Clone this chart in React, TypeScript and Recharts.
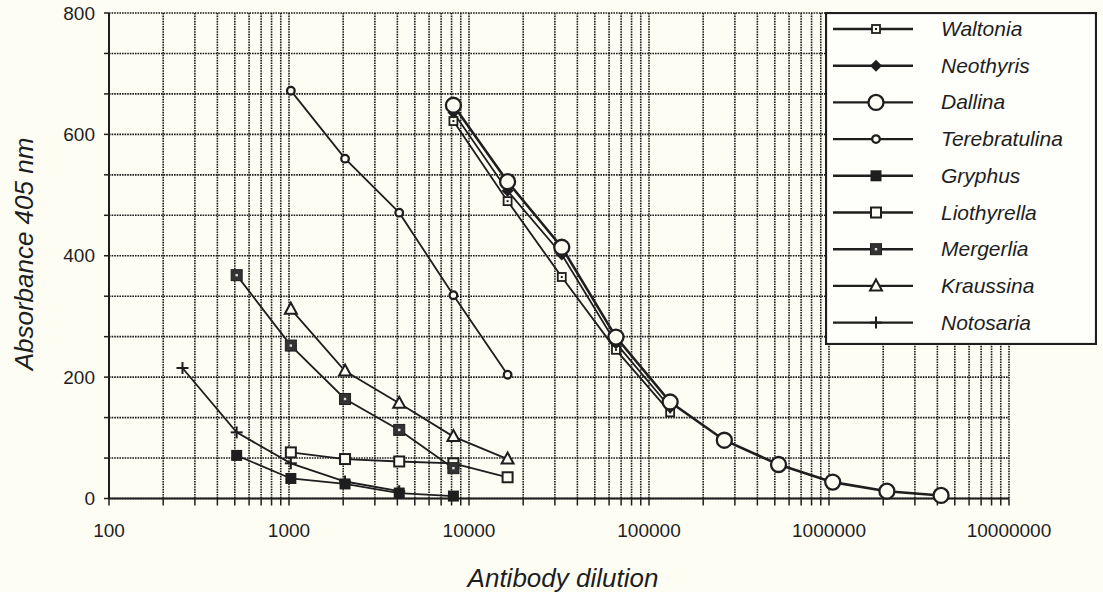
import React from 'react';
import { LineChart, Line, XAxis, YAxis, CartesianGrid } from 'recharts';

// Antibody dilution series (two-fold steps)
const dilutions = [256, 512, 1024, 2048, 4096, 8192, 16384, 32768, 65536, 131072, 262144, 524288, 1048576, 2097152, 4194304];

// Absorbance values per genus (first dilution given as start)
const waltonia = [622, 490, 365, 245, 142]; // from 8192
const neothyris = [636, 507, 402, 256, 150]; // from 8192
const dallina = [648, 522, 414, 266, 159, 96, 56, 27, 12, 5]; // from 8192
const terebratulina = [672, 560, 471, 335, 204]; // from 1024
const gryphus = [71, 33, 24, 9, 4]; // from 512
const liothyrella = [76, 65, 61, 58, 35]; // from 1024
const mergerlia = [368, 252, 164, 113, 50]; // from 512
const kraussina = [312, 210, 157, 102, 65]; // from 1024
const notosaria = [215, 109, 58, 28, 12]; // from 256

const seriesNames = ['Waltonia', 'Neothyris', 'Dallina', 'Terebratulina', 'Gryphus', 'Liothyrella', 'Mergerlia', 'Kraussina', 'Notosaria'];
const seriesValues = [waltonia, neothyris, dallina, terebratulina, gryphus, liothyrella, mergerlia, kraussina, notosaria];
const seriesStart = [8192, 8192, 8192, 1024, 512, 1024, 512, 1024, 256];
const seriesMarker = ['dotSquare', 'diamond', 'circle', 'smallRing', 'filledSquare', 'openSquare', 'dotFilledSquare', 'triangle', 'plus'];

const xTicks: number[] = [];
for (let e = 2; e < 7; e++) {
  for (let m = 1; m < 10; m++) xTicks.push(m * Math.pow(10, e));
}
xTicks.push(10000000);
const yTicks: number[] = Array.from({ length: 13 }, (_, i) => (i * 800) / 12);

const BG = '#fdfdf4';
const INK = '#1e1e1e';
const FONT = "'Liberation Sans', Arial, Helvetica, sans-serif";

const buildData = (idx: number) => {
  const s = dilutions.indexOf(seriesStart[idx]);
  return seriesValues[idx].map((y, i) => ({ x: dilutions[s + i], y }));
};

function Marker({ type, cx, cy }: { type: string; cx: number; cy: number }) {
  switch (type) {
    case 'dotSquare':
      return (
        <g>
          <rect x={cx - 4} y={cy - 4} width={8} height={8} fill={BG} stroke={INK} strokeWidth={1.8} />
          <rect x={cx - 1} y={cy - 1} width={2} height={2} fill={INK} />
        </g>
      );
    case 'diamond':
      return <polygon points={`${cx},${cy - 6} ${cx + 6},${cy} ${cx},${cy + 6} ${cx - 6},${cy}`} fill={INK} />;
    case 'circle':
      return <circle cx={cx} cy={cy} r={7.5} fill={BG} stroke={INK} strokeWidth={2.3} />;
    case 'smallRing':
      return <circle cx={cx} cy={cy} r={3.8} fill={BG} stroke={INK} strokeWidth={2.3} />;
    case 'filledSquare':
      return <rect x={cx - 5.5} y={cy - 5.5} width={11} height={11} fill={INK} />;
    case 'openSquare':
      return <rect x={cx - 5} y={cy - 5} width={10} height={10} fill={BG} stroke={INK} strokeWidth={2} />;
    case 'dotFilledSquare':
      return (
        <g>
          <rect x={cx - 5.5} y={cy - 5.5} width={11} height={11} fill="#333" stroke={INK} strokeWidth={1} />
          <rect x={cx - 1.2} y={cy - 1.2} width={2.4} height={2.4} fill="#ddd" />
        </g>
      );
    case 'triangle':
      return (
        <polygon
          points={`${cx},${cy - 6.5} ${cx + 6},${cy + 4.5} ${cx - 6},${cy + 4.5}`}
          fill={BG}
          stroke={INK}
          strokeWidth={2}
        />
      );
    case 'plus':
      return (
        <g stroke={INK} strokeWidth={2}>
          <line x1={cx - 6} y1={cy} x2={cx + 6} y2={cy} />
          <line x1={cx} y1={cy - 6} x2={cx} y2={cy + 6} />
        </g>
      );
    default:
      return null;
  }
}

const LegendBox = () => {
  const w = 272;
  const h = 333;
  return (
    <svg width={w} height={h} style={{ display: 'block' }}>
      <rect x={1} y={1} width={w - 2} height={h - 2} fill="#fefefa" stroke={INK} strokeWidth={2.2} />
      {seriesNames.map((name, i) => {
        const y = 17 + i * 36.7;
        return (
          <g key={name}>
            <line x1={8} y1={y} x2={88} y2={y} stroke={INK} strokeWidth={2.4} />
            <Marker type={seriesMarker[i]} cx={51} cy={y} />
            <text x={116} y={y + 7} fontFamily={FONT} fontStyle="italic" fontSize={21} fill={INK}>
              {name}
            </text>
          </g>
        );
      })}
    </svg>
  );
};

const fmtX = (v: number) => {
  const l = Math.log10(v);
  return Math.abs(l - Math.round(l)) < 1e-9 ? String(Math.round(v)) : '';
};
const fmtY = (v: number) => {
  const r = Math.round(v);
  return Math.abs(v - r) < 1e-6 && r % 200 === 0 ? String(r) : '';
};

export default function App() {
  const yAxisW = 80;
  const xAxisH = 40;
  return (
    <div style={{ position: 'absolute', left: 0, top: 0, width: 1103, height: 592, background: BG }}>
      <LineChart
        width={1103}
        height={592}
        margin={{ top: 13, right: 94, bottom: 93.5 - xAxisH, left: 109 - yAxisW }}
      >
        <CartesianGrid
          stroke="#1a1a1a"
          strokeWidth={1.6}
          strokeDasharray="1.6 1"
          horizontalValues={yTicks}
          verticalValues={xTicks}
        />
        <XAxis
          type="number"
          dataKey="x"
          scale="log"
          domain={[100, 10000000]}
          ticks={xTicks}
          interval={0}
          tickFormatter={fmtX}
          height={xAxisH}
          axisLine={{ stroke: INK, strokeWidth: 2 }}
          tickLine={{ stroke: INK, strokeWidth: 1.5 }}
          tickSize={7}
          tickMargin={18}
          tick={{ fill: INK, fontSize: 19, fontFamily: FONT }}
          allowDataOverflow
        />
        <YAxis
          type="number"
          domain={[0, 800]}
          ticks={yTicks}
          interval={0}
          tickFormatter={fmtY}
          width={yAxisW}
          axisLine={{ stroke: INK, strokeWidth: 2 }}
          tickLine={{ stroke: INK, strokeWidth: 1.5 }}
          tickSize={5}
          tickMargin={9}
          tick={{ fill: INK, fontSize: 19, fontFamily: FONT }}
        />
        {seriesNames.map((name, i) => (
          <Line
            key={name}
            name={name}
            data={buildData(i)}
            dataKey="y"
            stroke={INK}
            strokeWidth={name === 'Dallina' ? 2.6 : 1.8}
            isAnimationActive={false}
            dot={(p: any) => <Marker key={`${name}-${p.index}`} type={seriesMarker[i]} cx={p.cx} cy={p.cy} />}
            activeDot={false}
          />
        ))}
      </LineChart>
      <div style={{ position: 'absolute', left: 825, top: 12, width: 272, height: 333 }}>
        <LegendBox />
      </div>
      <div
        style={{
          position: 'absolute',
          left: 0,
          top: 0,
          width: 1103,
          height: 592,
          pointerEvents: 'none',
        }}
      >
        <svg width={1103} height={592}>
          <text
            x={563}
            y={587}
            textAnchor="middle"
            fontFamily={FONT}
            fontStyle="italic"
            fontSize={26}
            fill={INK}
          >
            Antibody dilution
          </text>
          <text
            x={0}
            y={0}
            transform="translate(33,254) rotate(-90)"
            textAnchor="middle"
            fontFamily={FONT}
            fontStyle="italic"
            fontSize={26}
            fill={INK}
          >
            Absorbance 405 nm
          </text>
        </svg>
      </div>
    </div>
  );
}
